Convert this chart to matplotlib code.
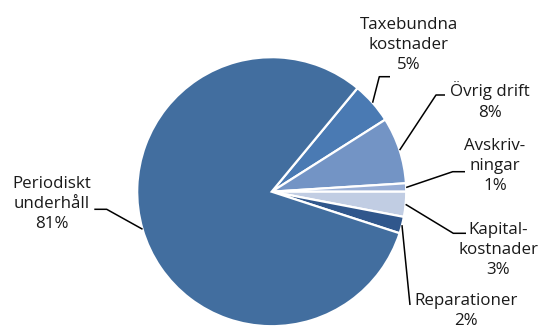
import matplotlib
matplotlib.use("Agg")
import matplotlib.pyplot as plt
import numpy as np

# shares (%), clockwise from the top-right slice
labels = ["Taxebundna\nkostnader", "Övrig drift", "Avskriv-\nningar",
          "Kapital-\nkostnader", "Reparationer", "Periodiskt\nunderhåll"]
shares = [5, 8, 1, 3, 2, 81]
colors = ["#4a7ab3", "#7394c5", "#98aed6", "#c1cde3", "#30578c", "#426e9f"]

W, H = 540, 331
fig = plt.figure(figsize=(W / 100, H / 100), dpi=100)
ax = fig.add_axes([0, 0, 1, 1])

cx, cy, R = 271.7, H - 191.7, 134.5
wedges, _ = ax.pie(shares, colors=colors, startangle=50.4, counterclock=False,
                   center=(cx, cy), radius=R, frame=True,
                   wedgeprops=dict(edgecolor="white", linewidth=1.6))
ax.set_xlim(0, W)
ax.set_ylim(0, H)
ax.set_aspect("equal")
ax.axis("off")

# label layout (pixel positions in the reference, y from top)
text_pos = [(409, 45), (490, 101), (495, 166), (498, 250), (466, 311), (52, 204)]
elbows = [[(379.3, 76.7), (390, 76.7)],
          [(436, 95), (445, 95)],
          [(452.7, 171.7), (465, 171.7)],
          [(453.3, 233.3), (466, 233.3)],
          [(410, 305)],
          [(106.7, 209.3), (94.3, 209.3)]]

font = ["Open Sans", "DejaVu Sans"]
for w, lab, s, (tx, ty), el in zip(wedges, labels, shares, text_pos, elbows):
    mid = np.deg2rad((w.theta1 + w.theta2) / 2)
    ax_ = cx + R * np.cos(mid)
    ay_ = cy + R * np.sin(mid)
    xs = [ax_] + [p[0] for p in el]
    ys = [ay_] + [H - p[1] for p in el]
    ax.plot(xs, ys, color="black", lw=1.1, solid_capstyle="butt")
    ax.text(tx, H - ty, f"{lab}\n{s}%", ha="center", va="center",
            fontsize=12.2, family=font, color="#1a1a1a", linespacing=1.36)

fig.savefig("out.png", dpi=100)
